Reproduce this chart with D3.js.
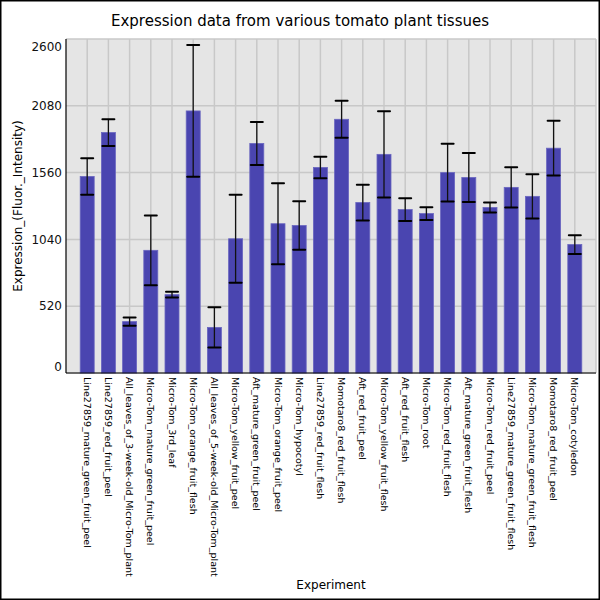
<!DOCTYPE html>
<html>
<head>
<meta charset="utf-8">
<script src="https://cdn.jsdelivr.net/npm/d3@7"></script>
<style>
  body { margin: 0; background: #fff; }
  text { font-family: "DejaVu Sans", sans-serif; }
</style>
</head>
<body>
<script>
// Tissue names, in plotted order
const tissues = [
  "Line27859_mature_green_fruit_peel",
  "Line27859_red_fruit_peel",
  "All_leaves_of_3-week-old_Micro-Tom_plant",
  "Micro-Tom_mature_green_fruit_peel",
  "Micro-Tom_3rd_leaf",
  "Micro-Tom_orange_fruit_flesh",
  "All_leaves_of_5-week-old_Micro-Tom_plant",
  "Micro-Tom_yellow_fruit_peel",
  "Aft_mature_green_fruit_peel",
  "Micro-Tom_orange_fruit_peel",
  "Micro-Tom_hypocotyl",
  "Line27859_red_fruit_flesh",
  "Momotaro8_red_fruit_flesh",
  "Aft_red_fruit_peel",
  "Micro-Tom_yellow_fruit_flesh",
  "Aft_red_fruit_flesh",
  "Micro-Tom_root",
  "Micro-Tom_red_fruit_flesh",
  "Aft_mature_green_fruit_flesh",
  "Micro-Tom_red_fruit_peel",
  "Line27859_mature_green_fruit_flesh",
  "Micro-Tom_mature_green_fruit_flesh",
  "Momotaro8_red_fruit_peel",
  "Micro-Tom_cotyledon"
];
// mean expression and error (+/-)
const expression = [1530, 1872, 400, 955, 610, 2040, 355, 1045, 1787, 1162, 1148, 1600,
                    1975, 1327, 1702, 1272, 1241, 1560, 1522, 1288, 1445, 1375, 1750, 1000];
const errors = [142, 104, 33, 272, 22, 513, 157, 342, 167, 315, 189, 84,
                144, 139, 335, 88, 50, 225, 190, 39, 156, 172, 213, 73];
const yTicks = [0, 520, 1040, 1560, 2080, 2600];

const width = 600, height = 600;
const plot_left = 66, plot_right = 596, plot_top = 39, plot_bottom = 373;

let svg = d3.select("body").append("svg")
    .attr("width", width)
    .attr("height", height);

svg.append("rect")
    .attr("x", 0.75).attr("y", 0.75)
    .attr("width", width - 1.5).attr("height", height - 1.5)
    .attr("fill", "#fff").attr("stroke", "#000").attr("stroke-width", 1.5);

// scales: bars sit on whole positions 1..n
const x = d3.scaleLinear().domain([0, tissues.length + 1]).range([plot_left, plot_right]);
const y = d3.scaleLinear().domain([0, 2600]).range([plot_bottom, plot_top]);
const barW = 14;

// plot background
svg.append("rect")
    .attr("x", plot_left).attr("y", plot_top)
    .attr("width", plot_right - plot_left).attr("height", plot_bottom - plot_top)
    .attr("fill", "#e5e5e5");

// grid
let grid = svg.append("g");
yTicks.forEach((t) => {
    grid.append("line")
        .attr("x1", plot_left).attr("x2", plot_right)
        .attr("y1", y(t)).attr("y2", y(t))
        .attr("stroke", "#c8c8c8").attr("stroke-width", 1.5);
});
tissues.forEach((t, i) => {
    grid.append("line")
        .attr("x1", x(i + 1)).attr("x2", x(i + 1))
        .attr("y1", plot_top).attr("y2", plot_bottom)
        .attr("stroke", "#c8c8c8").attr("stroke-width", 1.5);
});
grid.append("line")
    .attr("x1", plot_right).attr("x2", plot_right)
    .attr("y1", plot_top).attr("y2", plot_bottom)
    .attr("stroke", "#c8c8c8").attr("stroke-width", 1.5);

// bars
svg.append("g").selectAll("rect")
    .data(expression)
    .join("rect")
    .attr("x", (d, i) => x(i + 1) - barW / 2)
    .attr("y", (d) => y(d))
    .attr("width", barW)
    .attr("height", (d) => y(0) - y(d))
    .attr("fill", "#4a45b0")
    .attr("stroke", "#6a66c0")
    .attr("stroke-width", 0.8);

// error bars
let eb = svg.append("g");
expression.forEach((d, i) => {
    const cx = x(i + 1);
    const hi = y(d + errors[i]), lo = y(d - errors[i]);
    eb.append("line")
        .attr("x1", cx).attr("x2", cx).attr("y1", hi).attr("y2", lo)
        .attr("stroke", "#111").attr("stroke-width", 1.3);
    [hi, lo].forEach((v) => {
        eb.append("line")
            .attr("x1", cx - 6).attr("x2", cx + 6).attr("y1", v).attr("y2", v)
            .attr("stroke", "#000").attr("stroke-width", 2)
            .attr("stroke-linecap", "round");
    });
});

// axes lines
svg.append("line")
    .attr("x1", plot_left).attr("x2", plot_left).attr("y1", plot_top).attr("y2", plot_bottom)
    .attr("stroke", "#000").attr("stroke-width", 1.2);
svg.append("line")
    .attr("x1", plot_left).attr("x2", plot_right).attr("y1", plot_bottom).attr("y2", plot_bottom)
    .attr("stroke", "#000").attr("stroke-width", 1.2);

// y tick labels (end ones nudged inside the plot)
svg.append("g").selectAll("text")
    .data(yTicks)
    .join("text")
    .attr("x", plot_left - 4)
    .attr("y", (d) => y(d) + (d === 0 ? -6 : d === 2600 ? 8 : 0))
    .attr("dy", "0.35em")
    .attr("text-anchor", "end")
    .attr("font-size", 12)
    .attr("fill", "#111")
    .text((d) => d);

// x tick labels, rotated
svg.append("g").selectAll("text")
    .data(tissues)
    .join("text")
    .attr("transform", (d, i) => `translate(${x(i + 1)}, ${plot_bottom + 4}) rotate(90)`)
    .attr("dy", "0.35em")
    .attr("font-size", 9.5)
    .attr("fill", "#000")
    .text((d) => d);

// titles
svg.append("text")
    .attr("x", 300).attr("y", 26)
    .attr("text-anchor", "middle")
    .attr("font-size", 15)
    .text("Expression data from various tomato plant tissues");

svg.append("text")
    .attr("x", (plot_left + plot_right) / 2).attr("y", 589)
    .attr("text-anchor", "middle")
    .attr("font-size", 12)
    .text("Experiment");

svg.append("text")
    .attr("transform", `translate(22, ${(plot_top + plot_bottom) / 2}) rotate(-90)`)
    .attr("text-anchor", "middle")
    .attr("font-size", 12)
    .text("Expression_(Fluor._Intensity)");
</script>
</body>
</html>
